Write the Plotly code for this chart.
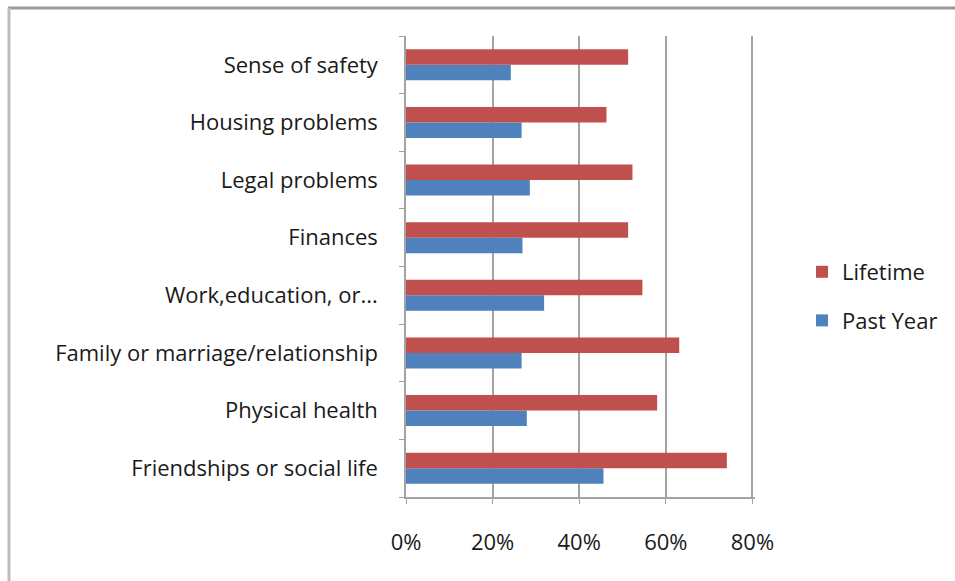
import plotly.graph_objects as go

# Life areas affected, listed bottom to top as they appear on the axis
categories = [
    "Friendships or social life",
    "Physical health",
    "Family or marriage/relationship",
    "Work,education, or...",
    "Finances",
    "Legal problems",
    "Housing problems",
    "Sense of safety",
]
past_year = [45.6, 27.9, 26.7, 31.9, 26.9, 28.6, 26.7, 24.2]
lifetime = [74.1, 58.0, 63.1, 54.6, 51.3, 52.3, 46.3, 51.3]
x_ticks = [0, 20, 40, 60, 80]
x_tick_text = ["0%", "20%", "40%", "60%", "80%"]

FONT = "Open Sans"
X_MAX = 80.6
W, H = 955, 581
L, R, T, B = 406, 200, 36, 84
pw, ph = W - L - R, H - T - B


def px_x(px):
    return (px - L) / pw


def px_y(py):
    return (H - B - py) / ph


fig = go.Figure()
fig.add_trace(go.Bar(
    y=categories, x=past_year, orientation="h", name="Past Year",
    marker=dict(color="#4F81BD", line=dict(width=0)),
    legendgroup="past", legendrank=2,
))
fig.add_trace(go.Bar(
    y=categories, x=lifetime, orientation="h", name="Lifetime",
    marker=dict(color="#C0504D", line=dict(width=0)),
    legendgroup="life", legendrank=1,
))

# Chart frame: grey edge along the top and left
fig.add_shape(type="line", xref="paper", yref="paper",
              x0=px_x(8), x1=px_x(W + 5), y0=px_y(8), y1=px_y(8),
              line=dict(color="#9a9a9a", width=3))
fig.add_shape(type="line", xref="paper", yref="paper",
              x0=px_x(9), x1=px_x(9), y0=px_y(8), y1=px_y(H + 5),
              line=dict(color="#bdbdbd", width=3))

tick_font = dict(family=FONT, size=22, color="#1a1a1a")

fig.update_layout(
    width=W, height=H,
    margin=dict(l=L, r=R, t=T, b=B, autoexpand=False),
    paper_bgcolor="white", plot_bgcolor="white",
    barmode="group", bargap=0.46, bargroupgap=0,
    font=tick_font,
    showlegend=True,
    legend=dict(
        x=px_x(802), y=px_y(251), xanchor="left", yanchor="top",
        traceorder="grouped", tracegroupgap=17,
        font=tick_font,
        itemwidth=30, bgcolor="rgba(0,0,0,0)",
    ),
    xaxis=dict(
        range=[0, X_MAX], tickvals=x_ticks, ticktext=x_tick_text,
        showgrid=True, gridcolor="#a3a3a3", gridwidth=1.5,
        showline=True, linecolor="#a3a3a3", linewidth=1.5,
        ticks="outside", ticklen=5, tickcolor="#a3a3a3",
        ticklabelstandoff=20, zeroline=False,
        tickfont=tick_font,
        fixedrange=True,
    ),
    yaxis=dict(
        type="category", categoryorder="array", categoryarray=categories,
        showline=True, linecolor="#a3a3a3", linewidth=1.5,
        ticks="outside", ticklen=5, tickcolor="#a3a3a3",
        tickson="boundaries", showgrid=False,
        ticklabelstandoff=22,
        tickfont=tick_font,
        fixedrange=True,
    ),
)

fig.write_html("out.html")
